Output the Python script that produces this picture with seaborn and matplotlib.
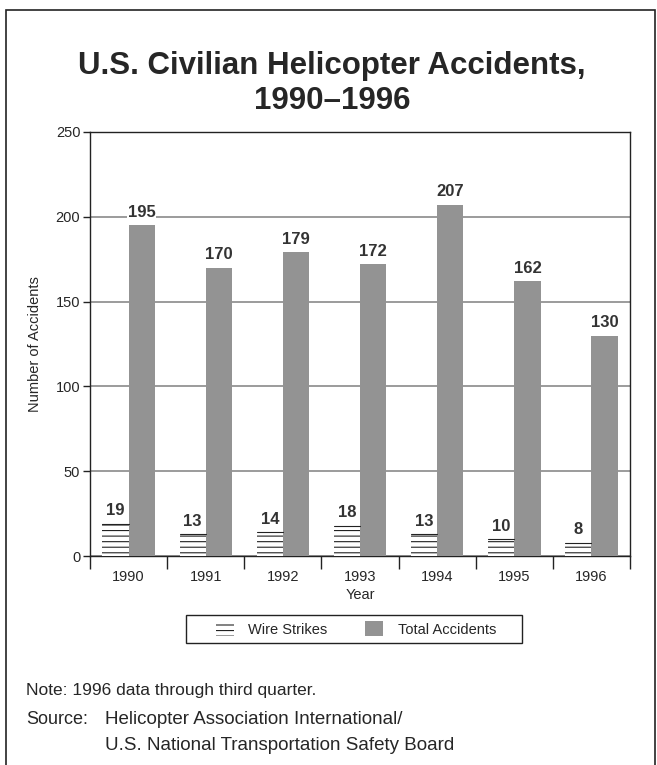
import matplotlib
matplotlib.use('Agg')
import matplotlib.pyplot as plt
import matplotlib.patches as mpatches
import seaborn as sns
import pandas as pd

years = ['1990', '1991', '1992', '1993', '1994', '1995', '1996']
wire_strikes = [19, 13, 14, 18, 13, 10, 8]
total_accidents = [195, 170, 179, 172, 207, 162, 130]
series = ['Wire Strikes', 'Total Accidents']

df = pd.DataFrame({
    'Year': years * 2,
    'Accidents': wire_strikes + total_accidents,
    'Series': [series[0]] * 7 + [series[1]] * 7,
})

sns.set_style('white')
plt.rcParams['font.family'] = ['Liberation Sans', 'DejaVu Sans']
plt.rcParams['hatch.linewidth'] = 0.8

gray = '#939393'
ink = '#222222'
fig = plt.figure(figsize=(6.57, 7.65), dpi=100)
ax = fig.add_axes([0.137, 0.273, 0.822, 0.5545])

sns.barplot(data=df, x='Year', y='Accidents', hue='Series', order=years,
            hue_order=series, palette={series[0]: 'white', series[1]: gray},
            width=0.68, gap=0, saturation=1, ax=ax, legend=False, zorder=3)

# wire strikes: white with horizontal lines
for bar in ax.containers[0]:
    bar.set_hatch('---')
    bar.set_edgecolor(ink)
    bar.set_linewidth(0)
    # top rule of the hatched bar
    ax.plot([bar.get_x(), bar.get_x() + bar.get_width()],
            [bar.get_height()] * 2, color=ink, lw=0.8, zorder=4)
for bar in ax.containers[1]:
    bar.set_edgecolor('none')
    bar.set_linewidth(0)

# value labels
for cont in ax.containers:
    ax.bar_label(cont, padding=4, fontsize=12, fontweight='bold', color='#333333',
                 bbox=dict(facecolor='white', edgecolor='none', pad=0.5), zorder=5)

ax.set_ylim(0, 250)
ax.set_xlim(-0.5, 6.5)
ax.set_yticks([0, 50, 100, 150, 200, 250])
ax.yaxis.grid(True, color='#808080', linewidth=1.1)
ax.set_axisbelow(True)
for s in ax.spines.values():
    s.set_color(ink)
    s.set_linewidth(1.0)

ax.tick_params(axis='y', direction='out', length=5, width=1, color=ink,
               labelsize=10.5, left=True, pad=2)
ax.tick_params(axis='x', which='major', length=0, labelsize=10.5, pad=10)
ax.set_xticks([i + 0.5 for i in range(-1, 7)], minor=True)
ax.tick_params(axis='x', which='minor', direction='out', length=9, width=1,
               color=ink, bottom=True)

ax.set_xlabel('Year', fontsize=10.5, labelpad=3)
ax.set_ylabel('Number of Accidents', fontsize=10.5, labelpad=10)

fig.text(0.505, 0.891, 'U.S. Civilian Helicopter Accidents,\n1990\u20131996',
         ha='center', va='center', fontsize=22.5, fontweight='bold',
         linespacing=1.25)

handles = [
    mpatches.Patch(facecolor='white', edgecolor=ink, hatch='---',
                   linewidth=0, label=series[0]),
    mpatches.Patch(facecolor=gray, edgecolor='none', label=series[1]),
]
leg = fig.legend(handles=handles, loc='center', bbox_to_anchor=(0.542, 0.178),
                 ncol=2, fontsize=10.5, frameon=False,
                 handlelength=1.2, handleheight=1.2,
                 columnspacing=2.6, handletextpad=1.0)
# legend box
fig.add_artist(mpatches.Rectangle((0.283, 0.1595), 0.511, 0.0366,
                                  transform=fig.transFigure, fill=False,
                                  edgecolor=ink, linewidth=1.0))

fig.text(0.04, 1 - 691 / 765, 'Note: 1996 data through third quarter.',
         fontsize=12.5, va='center')
fig.text(0.04, 1 - 720 / 765, 'Source:', fontsize=13, va='center')
fig.text(0.16, 1 - 720 / 765, 'Helicopter Association International/',
         fontsize=13.5, va='center')
fig.text(0.16, 1 - 745 / 765, 'U.S. National Transportation Safety Board',
         fontsize=13.5, va='center')

# outer border
fig.add_artist(mpatches.Rectangle((0.009, -0.01), 0.988, 0.997,
                                  transform=fig.transFigure, fill=False,
                                  edgecolor=ink, linewidth=1.2))

fig.savefig('out.png', dpi=100)
